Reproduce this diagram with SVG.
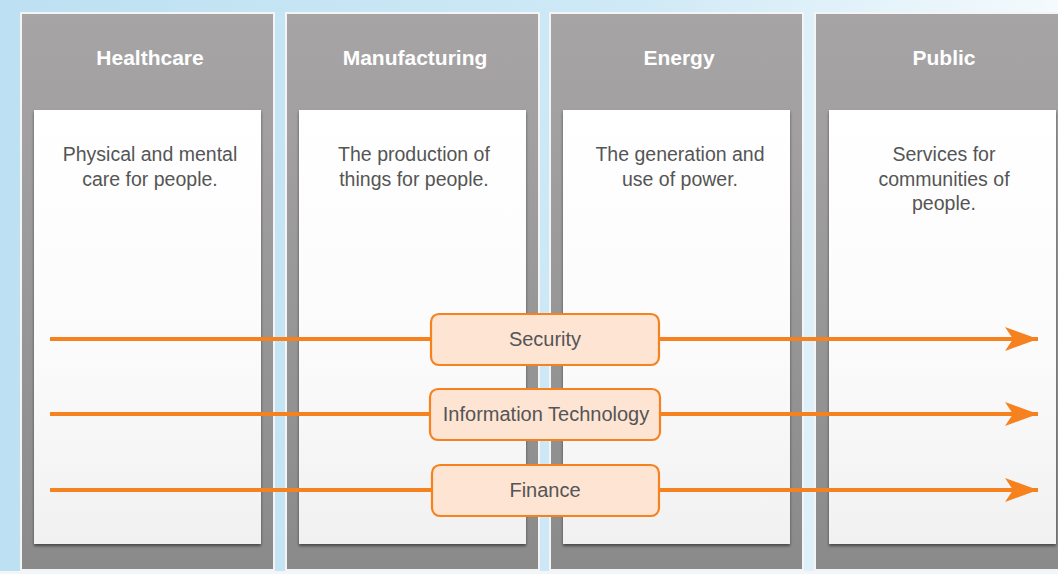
<svg xmlns="http://www.w3.org/2000/svg" width="1058" height="574" viewBox="0 0 1058 574">
<defs>
<linearGradient id="bg" x1="0" y1="0" x2="1" y2="0">
<stop offset="0" stop-color="#bde0f2"/>
<stop offset="0.6" stop-color="#cfe9f6"/>
<stop offset="1" stop-color="#f4fafd"/>
</linearGradient>
<linearGradient id="col" x1="0" y1="0" x2="0" y2="1">
<stop offset="0" stop-color="#a6a4a5"/>
<stop offset="0.2" stop-color="#a2a0a1"/>
<stop offset="1" stop-color="#8a8a8a"/>
</linearGradient>
<linearGradient id="panel" x1="0" y1="0" x2="0" y2="1">
<stop offset="0" stop-color="#ffffff"/>
<stop offset="0.55" stop-color="#fbfbfb"/>
<stop offset="1" stop-color="#f1f1f1"/>
</linearGradient>
<filter id="sh" x="-5%" y="-5%" width="110%" height="110%">
<feGaussianBlur in="SourceAlpha" stdDeviation="1.5"/>
<feOffset dx="0" dy="2"/>
<feComponentTransfer><feFuncA type="linear" slope="0.5"/></feComponentTransfer>
<feMerge><feMergeNode/><feMergeNode in="SourceGraphic"/></feMerge>
</filter>
<marker id="ah" markerWidth="38" markerHeight="28" refX="35" refY="14" orient="auto" markerUnits="userSpaceOnUse">
<path d="M2,2 L35,14 L2,26 L10,14 Z" fill="#f5821f"/>
</marker>
</defs>
<style>
.col{fill:url(#col);stroke:#f4f4f4;stroke-width:2}
.panel{fill:url(#panel);filter:url(#sh)}
.hd{font-family:"Liberation Sans",Arial,sans-serif;font-weight:bold;font-size:21px;fill:#ffffff;text-anchor:middle}
.ds{font-family:"Liberation Sans",Arial,sans-serif;font-size:19.5px;fill:#555555;text-anchor:middle}
.lb{fill:#fde4d3;stroke:#f5821f;stroke-width:2.2}
.lt{font-family:"Liberation Sans",Arial,sans-serif;font-size:20px;fill:#555555;text-anchor:middle}
.ar{stroke:#f5821f;stroke-width:4;fill:none}
</style>
<rect x="0" y="0" width="1058" height="574" fill="url(#bg)"/>
<rect x="0" y="571" width="1058" height="3" fill="#f3f6f8"/>

<g id="healthcare">
<rect class="col" x="21" y="13" width="253" height="557"/>
<text class="hd" x="150" y="65">Healthcare</text>
<rect class="panel" x="34" y="110" width="227" height="434"/>
<text class="ds" x="150" y="161">Physical and mental</text>
<text class="ds" x="150" y="186">care for people.</text>
</g>
<g id="manufacturing">
<rect class="col" x="286" y="13" width="253" height="557"/>
<text class="hd" x="415" y="65">Manufacturing</text>
<rect class="panel" x="299" y="110" width="227" height="434"/>
<text class="ds" x="414" y="161">The production of</text>
<text class="ds" x="414" y="186">things for people.</text>
</g>
<g id="energy">
<rect class="col" x="550" y="13" width="253" height="557"/>
<text class="hd" x="679" y="65">Energy</text>
<rect class="panel" x="563" y="110" width="227" height="434"/>
<text class="ds" x="680" y="161">The generation and</text>
<text class="ds" x="680" y="186">use of power.</text>
</g>
<g id="public">
<rect class="col" x="815" y="13" width="253" height="557"/>
<text class="hd" x="944" y="65">Public</text>
<rect class="panel" x="829" y="110" width="227" height="434"/>
<text class="ds" x="944" y="161">Services for</text>
<text class="ds" x="944" y="186">communities of</text>
<text class="ds" x="944" y="210">people.</text>
</g>

<g id="connectors">
<line class="ar" x1="50" y1="339" x2="1038" y2="339" marker-end="url(#ah)"/>
<line class="ar" x1="50" y1="414" x2="1038" y2="414" marker-end="url(#ah)"/>
<line class="ar" x1="50" y1="490" x2="1038" y2="490" marker-end="url(#ah)"/>
</g>

<g id="security">
<rect class="lb" x="431" y="314" width="228" height="51" rx="8"/>
<text class="lt" x="545" y="346">Security</text>
</g>
<g id="information-technology">
<rect class="lb" x="430" y="389" width="230" height="51" rx="8"/>
<text class="lt" x="546" y="421">Information Technology</text>
</g>
<g id="finance">
<rect class="lb" x="432" y="465" width="227" height="51" rx="8"/>
<text class="lt" x="545" y="497">Finance</text>
</g>
</svg>
